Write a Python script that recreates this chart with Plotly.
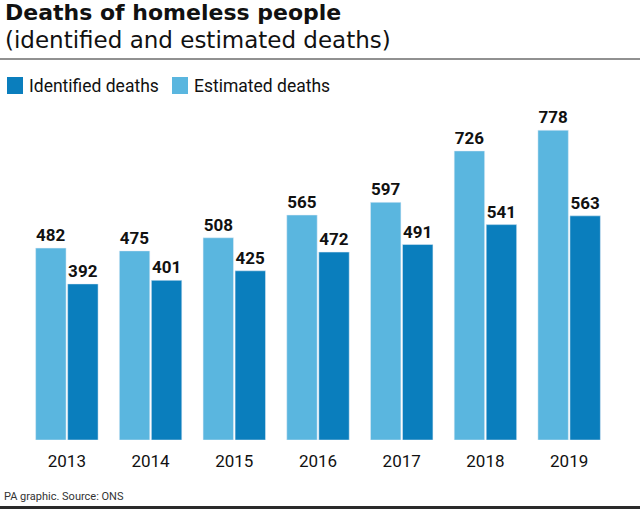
import plotly.graph_objects as go

years = ["2013", "2014", "2015", "2016", "2017", "2018", "2019"]
estimated = [482, 475, 508, 565, 597, 726, 778]
identified = [392, 401, 425, 472, 491, 541, 563]

W, H = 640, 509
ML, MR, MT, MB = 25, 29, 100, 69
PW = W - ML - MR
PH = H - MT - MB

def px_x(x):
    return (x - ML) / PW

def px_y(y):
    return (H - MB - y) / PH

FONT = "Roboto"
TFONT = "DejaVu Sans"
C_EST = "#5AB6DF"
C_ID = "#0A7EBD"
TXT = "#111111"

fig = go.Figure()
fig.add_trace(go.Bar(
    x=years, y=estimated, name="Estimated deaths", marker_color=C_EST,
    text=[f"<b>{v}</b>" for v in estimated], textposition="outside", cliponaxis=False,
    textfont=dict(family=FONT, size=17, color=TXT),
))
fig.add_trace(go.Bar(
    x=years, y=identified, name="Identified deaths", marker_color=C_ID,
    text=[f"<b>{v}</b>" for v in identified], textposition="outside", cliponaxis=False,
    textfont=dict(family=FONT, size=17, color=TXT),
))

annotations = [
    dict(text="<b>Deaths of homeless people</b>", x=px_x(3), y=px_y(12),
         font=dict(family=TFONT, size=22, color=TXT)),
    dict(text="(identified and estimated deaths)", x=px_x(3), y=px_y(40),
         font=dict(family=TFONT, size=23, color=TXT)),
    dict(text="Identified deaths", x=px_x(27), y=px_y(86),
         font=dict(family=FONT, size=17.5, color=TXT)),
    dict(text="Estimated deaths", x=px_x(192), y=px_y(86),
         font=dict(family=FONT, size=17.5, color=TXT)),
    dict(text="PA graphic. Source: ONS", x=px_x(2), y=px_y(496),
         font=dict(family=FONT, size=11, color="#333333")),
]
for a in annotations:
    a.update(xref="paper", yref="paper", xanchor="left", yanchor="middle", showarrow=False)

shapes = [
    dict(type="line", x0=px_x(0), x1=px_x(W), y0=px_y(59), y1=px_y(59),
         line=dict(color="#222222", width=1)),
    dict(type="rect", x0=px_x(7), x1=px_x(23), y0=px_y(94), y1=px_y(77),
         line=dict(width=0), fillcolor=C_ID),
    dict(type="rect", x0=px_x(172), x1=px_x(188), y0=px_y(94), y1=px_y(77),
         line=dict(width=0), fillcolor=C_EST),
    dict(type="rect", x0=px_x(0), x1=px_x(W), y0=px_y(506), y1=px_y(509),
         line=dict(width=0), fillcolor="#2a2a2a"),
]
for s in shapes:
    s.update(xref="paper", yref="paper")

fig.update_layout(
    width=W, height=H,
    margin=dict(l=ML, r=MR, t=MT, b=MB, autoexpand=False),
    paper_bgcolor="white", plot_bgcolor="white",
    barmode="group", bargap=0.235, bargroupgap=0.05,
    font=dict(family=FONT, color=TXT),
    showlegend=False,
    xaxis=dict(
        showgrid=False, zeroline=False, showline=False, ticks="",
        tickfont=dict(family=FONT, size=17, color=TXT),
        ticklabelstandoff=9,
        automargin=False,
    ),
    yaxis=dict(range=[0, 854], visible=False),
    annotations=annotations,
    shapes=shapes,
)

fig.write_html("out.html", config={"displayModeBar": False},
               post_script="document.body.style.margin='0';document.body.style.padding='0';")
